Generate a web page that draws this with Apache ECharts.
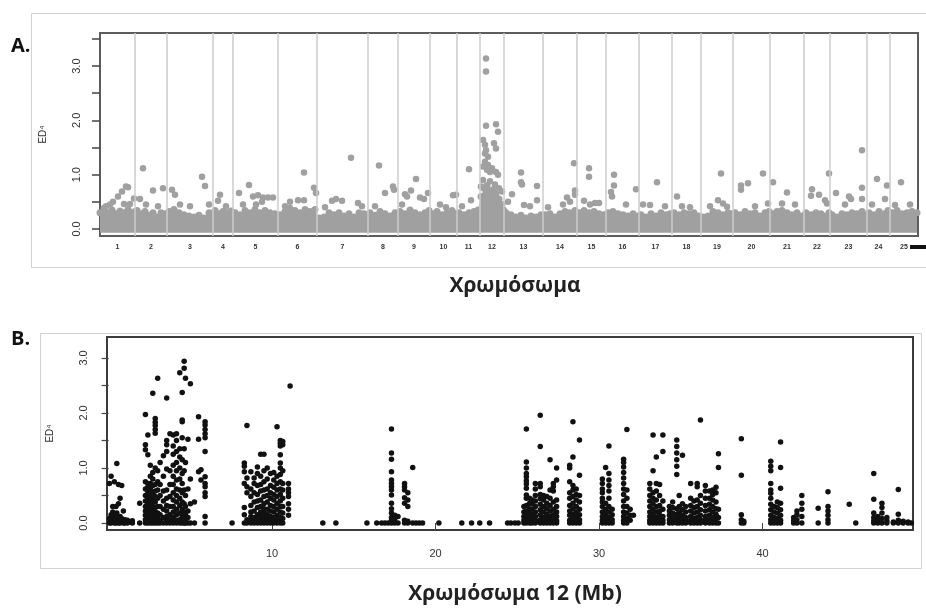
<!DOCTYPE html>
<html>
<head>
<meta charset="utf-8">
<title>ED4 - Χρωμόσωμα</title>
<script src="https://cdn.jsdelivr.net/npm/echarts@6/dist/echarts.min.js"></script>
<style>
  * { margin: 0; padding: 0; }
  body { background: #fff; }
  #chart { width: 926px; height: 609px; }
</style>
</head>
<body>
<div id="chart"></div>
<script>
// chromosome names and lengths (Mb)
var chrNames = ['1','2','3','4','5','6','7','8','9','10','11','12','13','14','15','16','17','18','19','20','21','22','23','24','25'];
var chrLen = [70,64,92,40,90,78,102,60,64,54,46,48,78,68,58,66,66,58,64,74,68,52,74,46,56];

// upper edge of the dense grey cloud: [chr, pos Mb, ED4]
var bandTop = [
  [1,0,0.3],[1,8,0.38],[1,16,0.3],[1,24,0.35],[1,32,0.28],[1,40,0.33],[1,48,0.3],[1,56,0.36],[1,64,0.3],[1,70,0.32],
  [2,4,0.34],[2,12,0.28],[2,20,0.32],[2,28,0.25],[2,36,0.3],[2,44,0.22],[2,52,0.3],[2,60,0.28],
  [3,4,0.32],[3,14,0.36],[3,24,0.3],[3,34,0.26],[3,44,0.24],[3,54,0.22],[3,64,0.25],[3,74,0.2],[3,84,0.3],[3,90,0.28],
  [4,4,0.34],[4,12,0.28],[4,20,0.32],[4,28,0.3],[4,36,0.33],
  [5,4,0.3],[5,14,0.26],[5,24,0.34],[5,34,0.3],[5,44,0.36],[5,54,0.3],[5,64,0.34],[5,74,0.3],[5,84,0.28],
  [6,4,0.26],[6,14,0.32],[6,24,0.38],[6,34,0.34],[6,44,0.3],[6,54,0.36],[6,64,0.32],[6,74,0.36],
  [7,4,0.2],[7,14,0.22],[7,24,0.3],[7,34,0.26],[7,44,0.3],[7,54,0.24],[7,64,0.28],[7,74,0.22],[7,84,0.3],[7,94,0.28],[7,100,0.24],
  [8,4,0.3],[8,14,0.25],[8,24,0.32],[8,34,0.28],[8,44,0.24],[8,54,0.3],
  [9,4,0.32],[9,14,0.28],[9,24,0.35],[9,34,0.3],[9,44,0.26],[9,54,0.3],[9,62,0.34],
  [10,4,0.28],[10,14,0.32],[10,24,0.26],[10,34,0.3],[10,44,0.34],[10,52,0.28],
  [11,4,0.3],[11,14,0.26],[11,24,0.3],[11,34,0.32],[11,42,0.35],
  [12,2,0.6],[12,8,0.75],[12,14,0.8],[12,20,0.7],[12,26,0.72],[12,32,0.65],[12,38,0.55],[12,44,0.45],[12,47,0.35],
  [13,4,0.3],[13,14,0.26],[13,24,0.22],[13,34,0.25],[13,44,0.2],[13,54,0.24],[13,64,0.22],[13,74,0.26],
  [14,4,0.26],[14,14,0.28],[14,24,0.22],[14,34,0.28],[14,44,0.32],[14,54,0.3],[14,64,0.34],
  [15,4,0.3],[15,14,0.34],[15,24,0.3],[15,34,0.32],[15,44,0.28],[15,54,0.26],
  [16,4,0.3],[16,14,0.32],[16,24,0.28],[16,34,0.26],[16,44,0.24],[16,54,0.28],[16,62,0.24],
  [17,4,0.26],[17,14,0.22],[17,24,0.28],[17,34,0.24],[17,44,0.3],[17,54,0.26],[17,62,0.28],
  [18,4,0.3],[18,14,0.26],[18,24,0.3],[18,34,0.28],[18,44,0.3],[18,54,0.24],
  [19,4,0.22],[19,14,0.24],[19,24,0.32],[19,34,0.3],[19,44,0.26],[19,54,0.3],[19,62,0.28],
  [20,4,0.3],[20,14,0.26],[20,24,0.32],[20,34,0.28],[20,44,0.3],[20,54,0.24],[20,64,0.3],[20,72,0.32],
  [21,4,0.28],[21,14,0.32],[21,24,0.34],[21,34,0.3],[21,44,0.26],[21,54,0.3],[21,64,0.24],
  [22,4,0.3],[22,14,0.26],[22,24,0.3],[22,34,0.28],[22,44,0.24],[22,50,0.3],
  [23,4,0.26],[23,14,0.22],[23,24,0.28],[23,34,0.26],[23,44,0.3],[23,54,0.28],[23,64,0.32],[23,72,0.26],
  [24,4,0.3],[24,14,0.26],[24,24,0.32],[24,34,0.28],[24,42,0.34],
  [25,4,0.3],[25,14,0.34],[25,24,0.28],[25,34,0.3],[25,44,0.32],[25,54,0.3]
];

// points standing out above the cloud: [chr, pos Mb, ED4]
var gwPoints = [
  [1,56,0.77],[1,52,0.78],[1,44,0.69],[1,36,0.6],[1,26,0.5],[1,68,0.56],[1,60,0.46],[1,48,0.46],[1,12,0.42],[1,20,0.45],
  [2,16,1.12],[2,36,0.71],[2,56,0.75],[2,10,0.55],[2,22,0.45],[2,46,0.42],
  [3,10,0.72],[3,16,0.63],[3,70,0.96],[3,76,0.79],[3,26,0.45],[3,46,0.42],[3,84,0.45],
  [4,14,0.63],[4,10,0.52],[4,26,0.42],
  [5,12,0.66],[5,32,0.81],[5,40,0.6],[5,50,0.62],[5,60,0.58],[5,70,0.58],[5,80,0.58],[5,46,0.45],[5,20,0.45],[5,58,0.5],
  [6,52,1.04],[6,72,0.76],[6,76,0.66],[6,52,0.53],[6,40,0.53],[6,24,0.5],[6,14,0.42],
  [7,68,1.31],[7,30,0.52],[7,50,0.52],[7,38,0.55],[7,82,0.48],[7,90,0.42],[7,16,0.4],
  [8,22,1.17],[8,34,0.66],[8,50,0.78],[8,52,0.72],[8,14,0.42],
  [9,36,0.92],[9,26,0.71],[9,14,0.64],[9,18,0.6],[9,44,0.58],[9,52,0.55],[9,8,0.45],[9,60,0.66],
  [10,46,0.62],[10,52,0.63],[10,20,0.45],[10,32,0.4],
  [11,24,1.1],[11,28,0.53],[11,10,0.42],
  [12,12,3.14],[12,12,2.9],[12,12,1.9],[12,32,1.93],[12,36,1.79],[12,6,1.64],[12,10,1.55],[12,12,1.45],[12,10,1.39],
  [12,16,1.33],[12,28,1.58],[12,32,1.48],[12,10,1.24],[12,16,1.18],[12,6,1.15],[12,14,1.09],[12,20,1.05],[12,24,1.12],
  [12,32,1.05],[12,36,1.0],[12,6,0.9],[12,20,0.88],[12,30,0.82],[12,38,0.75],[12,44,0.69],[12,2,0.78],
  [13,34,1.04],[13,36,0.82],[13,34,0.86],[13,66,0.79],[13,66,0.53],[13,16,0.64],[13,40,0.44],[13,8,0.5],[13,52,0.42],
  [14,48,0.58],[14,62,1.21],[14,64,0.71],[14,64,0.63],[14,10,0.4],[14,40,0.45],[14,54,0.5],
  [15,24,1.12],[15,24,0.96],[15,14,0.52],[15,36,0.48],[15,44,0.48],[15,26,0.45],
  [16,16,1.0],[16,16,0.8],[16,10,0.68],[16,12,0.6],[16,60,0.73],[16,40,0.45],
  [17,36,0.86],[17,22,0.44],[17,8,0.45],[17,52,0.42],
  [18,10,0.6],[18,36,0.4],[18,20,0.42],
  [19,40,1.02],[19,34,0.53],[19,44,0.47],[19,52,0.41],[19,18,0.42],
  [20,16,0.8],[20,16,0.72],[20,30,0.84],[20,60,1.02],[20,70,0.47],[20,44,0.42],
  [21,6,0.86],[21,34,0.67],[21,24,0.47],[21,50,0.45],
  [22,16,0.73],[22,30,0.63],[22,14,0.61],[22,42,0.53],[22,46,0.47],[22,50,1.02],
  [23,12,0.66],[23,38,0.6],[23,42,0.55],[23,64,1.45],[23,64,0.76],[23,64,0.55],[23,30,0.45],
  [24,20,0.92],[24,40,0.8],[24,36,0.55],[24,10,0.45],
  [25,22,0.86],[25,10,0.44],[25,40,0.45]
];

// panel B, chromosome 12: [position Mb, [ED4 values at that position]]
var chr12Cols = [
  [0.05,[0,0.08,0.72]],[0.15,[0,0.04,0.15,0.85]],[0.25,[0.02,0.1,0.2,0.3]],[0.35,[0,0.06,0.12,0.75]],
  [0.45,[0,0.04,0.3]],[0.5,[0.02,0.1,0.18,1.08]],[0.6,[0,0.06,0.35,0.7]],[0.7,[0,0.04,0.12,0.45]],
  [0.8,[0.02,0.08,0.68]],[0.9,[0,0.05,0.22]],[1.0,[0,0.06]],[1.15,[0,0.05]],[1.3,[0.02]],[1.45,[0,0.04]],
  [1.9,[0,0.36]],
  [2.25,[0,0.06,0.14,0.22,0.3,0.4,0.5,0.62,0.75,1.33,1.42,1.97]],
  [2.4,[0,0.05,0.12,0.2,0.28,0.36,0.45,0.55,0.65,0.72,1.24,1.6]],
  [2.55,[0,0.04,0.1,0.18,0.25,0.35,0.42,0.52,0.62,0.72,0.85,1.05]],
  [2.7,[0,0.06,0.15,0.22,0.3,0.38,0.45,0.55,0.68,0.8,0.92,2.36]],
  [2.85,[0,0.05,0.12,0.2,0.28,0.38,0.48,0.58,0.7,1.0,1.63,1.7,1.77,1.83,1.9]],
  [3.0,[0,0.08,0.18,0.3,0.45,0.6,0.75,0.95,2.63]],
  [3.15,[0,0.05,0.15,0.3,0.5,0.7,1.1]],
  [3.35,[0,0.1,0.25,0.4,0.58,0.85,1.22]],
  [3.55,[0,0.04,0.12,0.22,0.32,0.45,0.6,0.98,1.3,1.42,1.5,2.27]],
  [3.75,[0,0.06,0.15,0.3,0.48,0.7,0.95,1.62]],
  [3.95,[0,0.02,0.1,0.2,0.3,0.42,0.55,0.7,0.85,1.05,1.25,1.4,1.6]],
  [4.15,[0,0.05,0.15,0.25,0.38,0.5,0.62,0.78,0.95,1.1,1.3,1.5,1.62]],
  [4.35,[0,0.06,0.18,0.32,0.45,0.6,0.8,1.0,1.2,1.35,2.73]],
  [4.5,[0,0.04,0.12,0.25,0.38,0.55,0.72,0.9,1.15,1.55,1.84,1.87,2.37]],
  [4.62,[0,0.08,0.2,0.35,0.6,0.95,1.35,2.81,2.94]],
  [4.7,[0,0.05,0.15,0.3,0.5,1.1,2.63]],
  [4.85,[0,0.1,0.22,0.62,1.52]],
  [5.0,[0,0.35,0.8,2.53]],
  [5.25,[0,0.38]],
  [5.5,[0.93,1.52,1.93]],
  [5.65,[0.78,0.97]],
  [5.9,[0,0.12,0.48,0.55,0.66,0.72,0.84,1.3,1.55,1.62,1.7,1.78,1.84]],
  [7.55,[0]],
  [8.3,[0,0.15,0.28,0.72,0.93,1.03,1.09]],
  [8.46,[0,0.06,0.55,0.66,0.82,1.77]],
  [8.7,[0,0.05,0.12,0.2,0.32,0.48,0.62,0.93]],
  [8.9,[0,0.03,0.1,0.22,0.38,0.55,0.72,0.82]],
  [9.1,[0,0.06,0.15,0.28,0.4,0.52,0.68,0.9,1.02]],
  [9.3,[0,0.04,0.12,0.2,0.3,0.42,0.58,0.7,0.85,1.25]],
  [9.5,[0,0.05,0.1,0.18,0.26,0.35,0.48,0.6,0.75,0.95,1.25]],
  [9.7,[0,0.03,0.08,0.15,0.25,0.38,0.5,0.62,0.8,1.0]],
  [9.9,[0,0.06,0.12,0.22,0.32,0.45,0.55,0.68,0.9]],
  [10.1,[0,0.04,0.1,0.2,0.3,0.42,0.52,0.65,0.78,0.92]],
  [10.3,[0,0.05,0.14,0.25,0.36,0.48,0.6,0.72,0.85,1.75]],
  [10.5,[0,0.03,0.1,0.2,0.3,0.4,0.52,0.62,0.75,0.88,1.0,1.09,1.24,1.4,1.45,1.5]],
  [10.65,[0,0.08,0.18,0.3,0.45,0.6,0.72,0.95,1.42,1.48]],
  [11.0,[0.14,0.25,0.35,0.48,0.55,0.62,0.72]],
  [11.1,[2.49]],
  [13.1,[0]],[13.9,[0]],[15.8,[0]],[16.4,[0]],[16.7,[0]],[16.9,[0]],[17.1,[0]],
  [17.3,[0,0.04,0.1,0.18,0.26,0.36,0.51,0.6,0.66,0.72,0.78,0.93,1.16,1.27,1.71]],
  [17.5,[0,0.03,0.08,0.14]],[17.7,[0,0.12]],
  [18.1,[0,0.05,0.36,0.46,0.6,0.66,0.72]],[18.3,[0,0.03,0.3,0.42,0.55]],[18.6,[0,1.01]],
  [18.8,[0]],[19.0,[0]],[19.2,[0]],[20.2,[0]],[21.6,[0]],[22.2,[0]],[22.7,[0]],[23.3,[0]],
  [24.4,[0]],[24.6,[0]],[24.85,[0]],[25.05,[0]],
  [25.4,[0,0.05,0.12,0.2,0.3]],
  [25.55,[0,0.06,0.14,0.22,0.32,0.45,0.51,0.63,0.71,0.77,0.84,0.9,1.0,1.11,1.71]],
  [25.75,[0,0.04,0.1,0.18,0.26,0.36,0.45]],
  [25.9,[0,0.08,0.15,0.25,0.35,0.42]],
  [26.1,[0,0.05,0.12,0.2,0.3,0.4,0.5,0.62,0.72]],
  [26.4,[0,0.06,0.15,0.24,0.34,0.44,0.52,0.66,0.72,1.39,1.96]],
  [26.6,[0,0.04,0.1,0.2,0.3,0.42,0.5]],
  [26.8,[0,0.08,0.16,0.26,0.36,0.48]],
  [27.0,[0,0.05,0.12,0.22,0.32,0.45,0.6,1.15]],
  [27.2,[0,0.06,0.15,0.25,0.38,0.58,0.66,0.72]],
  [27.4,[0,0.04,0.12,0.2,0.3,0.42,0.78,1.0]],
  [28.2,[0,0.05,0.14,0.22,0.32,0.45,0.55,0.75,1.0,1.05]],
  [28.4,[0,0.08,0.16,0.26,0.36,0.48,0.6,0.68,1.2,1.84]],
  [28.6,[0,0.04,0.12,0.2,0.3,0.42,0.52,0.62]],
  [28.8,[0,0.06,0.15,0.25,0.38,0.5,0.87,1.51]],
  [30.2,[0,0.05,0.12,0.2,0.3,0.38,0.45,0.55,0.62,0.72,0.8]],
  [30.4,[0,0.08,0.16,0.25,0.36,1.01]],
  [30.6,[0,0.04,0.1,0.2,0.3,0.45,0.58,0.68,0.78,0.9,1.4]],
  [30.8,[0,0.06,0.15,0.25]],
  [31.5,[0,0.05,0.12,0.2,0.3,0.4,0.52,0.62,0.72,0.82,0.92,1.02,1.1,1.16]],
  [31.7,[0,0.08,0.18,0.3,0.45,0.6,1.7]],
  [31.9,[0.05,0.14,0.25]],[32.1,[0.14]],
  [33.1,[0,0.05,0.12,0.2,0.3,0.4,0.5,0.62,0.72]],
  [33.3,[0,0.08,0.16,0.25,0.35,0.45,0.55,0.95,1.6]],
  [33.5,[0,0.04,0.1,0.2,0.3,0.42,0.58,0.72,1.2]],
  [33.7,[0,0.06,0.14,0.22,0.32,0.5,0.7]],
  [33.9,[0,0.05,0.12,0.25,0.4,1.3,1.6]],
  [34.3,[0,0.06,0.14,0.22,0.3]],
  [34.5,[0,0.04,0.1,0.18,0.28,0.38]],
  [34.75,[0,0.08,0.16,0.26,0.88,1.03,1.15,1.27,1.39,1.51]],
  [34.9,[0,0.05,0.12,0.2,0.3,0.5]],
  [35.1,[0,0.06,0.14,0.24,0.35,1.23]],
  [35.3,[0,0.04,0.1,0.2,0.3]],
  [35.6,[0,0.05,0.12,0.22,0.32,0.45,0.72]],
  [35.8,[0,0.08,0.18,0.28,0.4]],
  [36.0,[0,0.04,0.1,0.2,0.3,0.42,0.66,0.72]],
  [36.2,[0,0.06,0.14,0.24,0.36,0.5,1.87]],
  [36.5,[0,0.05,0.12,0.22,0.32,0.45,0.58,0.68]],
  [36.75,[0,0.06,0.14,0.24,0.34,0.45,0.58]],
  [36.95,[0,0.04,0.1,0.2,0.3,0.42,0.52,0.6]],
  [37.15,[0,0.08,0.16,0.26,0.38,0.55,0.65]],
  [37.3,[0,0.1,0.25,1.01,1.26]],
  [38.7,[0,0.06,0.15,0.87,1.53]],[38.85,[0,0.03]],
  [40.5,[0,0.06,0.14,0.24,0.34,0.45,0.54,0.6,0.72,0.95,1.03,1.12]],
  [40.7,[0,0.04,0.1,0.2,0.3]],
  [40.9,[0,0.08,0.18,0.28,0.38]],
  [41.1,[0,0.05,0.14,0.24,0.36,0.63,1.01,1.47]],
  [41.9,[0,0.04,0.1]],[42.1,[0,0.06,0.15,0.22]],[42.4,[0,0.12,0.25,0.36,0.5]],
  [43.4,[0,0.27]],[44.0,[0,0.06,0.14,0.22,0.3,0.57]],
  [45.3,[0.34]],[45.7,[0]],
  [46.8,[0,0.04,0.1,0.18,0.43,0.9]],[47.05,[0,0.05,0.12]],[47.3,[0,0.08,0.18,0.28,0.36]],
  [47.6,[0,0.04,0.1]],[48.0,[0,0.02]],[48.3,[0,0.05,0.16,0.61]],[48.6,[0,0.03]],[48.9,[0,0.02]],[49.1,[0]]
];

var yTicks = [0,0.5,1,1.5,2,2.5,3,3.5];
var yLabels = [0,1,2,3];
var chr12Ticks = [10,20,30,40];

// cumulative genome positions
var offsets = [];
var acc = 0;
chrLen.forEach(function (l) { offsets.push(acc); acc += l; });
var genomeLen = acc;
var mids = chrLen.map(function (l, i) { return offsets[i] + l / 2; });
var bounds = offsets.slice(1);

function toGenome(d) { return [offsets[d[0] - 1] + d[1], d[2]]; }

var bandData = bandTop.map(toGenome);
var gwData = gwPoints.map(toGenome);
var chr12Data = [];
chr12Cols.forEach(function (c) {
  c[1].forEach(function (v) { chr12Data.push([c[0], v]); });
});

var grey = '#a0a0a0';
var txt = '#333';

var chart = echarts.init(document.getElementById('chart'), null, { renderer: 'canvas' });

var option = {
  animation: false,
  backgroundColor: '#fff',
  grid: [
    { left: 100, right: 8, top: 33, height: 203, show: true, borderColor: '#5c5c5c', borderWidth: 2, backgroundColor: 'transparent' },
    { left: 107, right: 13, top: 337, height: 193, show: true, borderColor: '#3c3c3c', borderWidth: 2, backgroundColor: 'transparent' }
  ],
  xAxis: [
    {
      gridIndex: 0, type: 'value', min: 0, max: genomeLen,
      axisLine: { show: false }, axisTick: { show: false }, splitLine: { show: false },
      axisLabel: {
        customValues: mids, margin: 8, fontSize: 7, fontWeight: 'bold', color: txt,
        formatter: function (v) {
          for (var i = 0; i < mids.length; i++) { if (Math.abs(mids[i] - v) < 0.01) return chrNames[i]; }
          return '';
        }
      }
    },
    {
      gridIndex: 1, type: 'value', min: -0.1, max: 49.2,
      axisLine: { show: false }, splitLine: { show: false },
      axisTick: { customValues: chr12Ticks, length: 7, lineStyle: { color: '#444', width: 1 } },
      axisLabel: { customValues: chr12Ticks, margin: 18, fontSize: 11, color: txt, fontFamily: 'Liberation Sans' }
    }
  ],
  yAxis: [
    {
      gridIndex: 0, type: 'value', min: -0.13, max: 3.61,
      name: 'ED⁴', nameLocation: 'middle', nameRotate: 90, nameGap: 52,
      nameTextStyle: { fontSize: 10, color: txt, fontFamily: 'Liberation Sans' },
      axisLine: { show: false }, splitLine: { show: false },
      axisTick: { customValues: yTicks, length: 8, lineStyle: { color: '#444', width: 1.5 } },
      axisLabel: {
        customValues: yLabels, rotate: 90, margin: 18, fontSize: 11, color: txt, fontFamily: 'Liberation Sans',
        formatter: function (v) { return v.toFixed(1); }
      }
    },
    {
      gridIndex: 1, type: 'value', min: -0.127, max: 3.38,
      name: 'ED⁴', nameLocation: 'middle', nameRotate: 90, nameGap: 52,
      nameTextStyle: { fontSize: 10, color: txt, fontFamily: 'Liberation Sans' },
      axisLine: { show: false }, splitLine: { show: false },
      axisTick: { customValues: [0,0.5,1,1.5,2,2.5,3], length: 7, lineStyle: { color: '#444', width: 1.2 } },
      axisLabel: {
        customValues: yLabels, rotate: 90, margin: 18, fontSize: 11, color: txt, fontFamily: 'Liberation Sans',
        formatter: function (v) { return v.toFixed(1); }
      }
    }
  ],
  series: [
    {
      name: 'band', type: 'line', xAxisIndex: 0, yAxisIndex: 0,
      data: bandData, symbol: 'circle', symbolSize: 7, showSymbol: true,
      lineStyle: { width: 0 }, itemStyle: { color: grey },
      areaStyle: { color: grey, opacity: 1, origin: -0.07 },
      silent: true, z: 2
    },
    {
      name: 'genome', type: 'scatter', xAxisIndex: 0, yAxisIndex: 0,
      data: gwData, symbolSize: 6.5, itemStyle: { color: grey, opacity: 1 },
      silent: true, z: 3
    },
    {
      name: 'bounds', type: 'scatter', xAxisIndex: 0, yAxisIndex: 0, data: [], z: 4,
      markLine: {
        silent: true, symbol: 'none', label: { show: false },
        lineStyle: { color: '#cdcdcd', width: 1.5, type: 'solid' },
        data: bounds.map(function (b) { return { xAxis: b }; })
      }
    },
    {
      name: 'chr12', type: 'scatter', xAxisIndex: 1, yAxisIndex: 1,
      data: chr12Data, symbolSize: 5.5, itemStyle: { color: '#111', opacity: 1 },
      silent: true, z: 3
    }
  ],
  graphic: [
    { type: 'rect', shape: { x: 31.5, y: 13.5, width: 900, height: 254 }, style: { fill: 'none', stroke: '#d2d2d2', lineWidth: 1 }, z: -1 },
    { type: 'rect', shape: { x: 40.5, y: 333.5, width: 881, height: 235 }, style: { fill: 'none', stroke: '#d2d2d2', lineWidth: 1 }, z: -1 },
    { type: 'rect', shape: { x: 910, y: 245, width: 16, height: 4 }, style: { fill: '#111' } },
    { type: 'text', style: { text: 'A.', x: 11, y: 46, textVerticalAlign: 'middle', font: 'bold 20px "Open Sans"', fill: '#111' } },
    { type: 'text', style: { text: 'B.', x: 11, y: 339, textVerticalAlign: 'middle', font: 'bold 20px "Open Sans"', fill: '#111' } },
    { type: 'text', style: { text: 'Χρωμόσωμα', x: 515, y: 286, textAlign: 'center', textVerticalAlign: 'middle', font: 'bold 21px "Open Sans"', fill: '#222' } },
    { type: 'text', style: { text: 'Χρωμόσωμα 12 (Mb)', x: 515, y: 594, textAlign: 'center', textVerticalAlign: 'middle', font: 'bold 21px "Open Sans"', fill: '#222' } }
  ]
};

chart.setOption(option);
</script>
</body>
</html>
